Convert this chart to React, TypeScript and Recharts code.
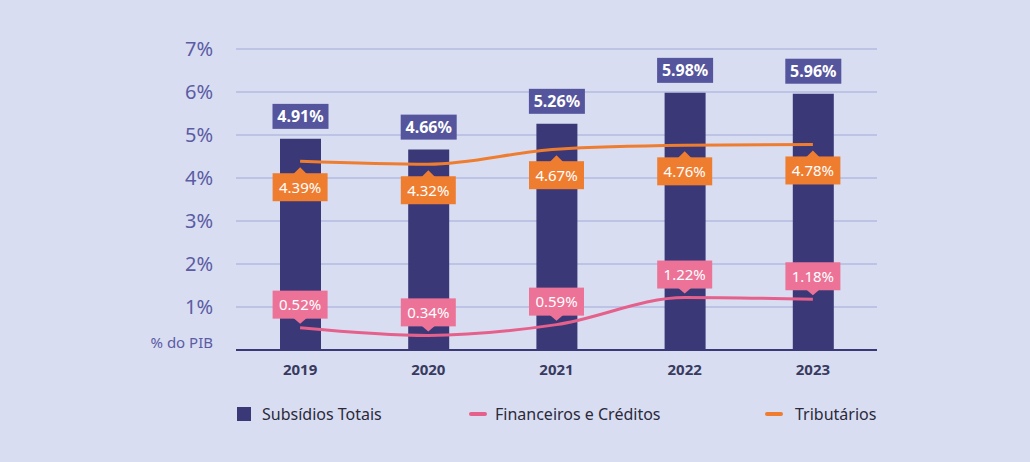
import React from "react";
import {
  ComposedChart,
  Bar,
  Line,
  XAxis,
  YAxis,
  CartesianGrid,
  LabelList,
  Legend,
} from "recharts";

const years = ["2019", "2020", "2021", "2022", "2023"];
const subsidiosTotais = [4.91, 4.66, 5.26, 5.98, 5.96];
const financeiros = [0.52, 0.34, 0.59, 1.22, 1.18];
const tributarios = [4.39, 4.32, 4.67, 4.76, 4.78];
const yTicks = [0, 1, 2, 3, 4, 5, 6, 7];

const data = years.map((y, i) => ({
  year: y,
  total: subsidiosTotais[i],
  fin: financeiros[i],
  trib: tributarios[i],
}));

const FONT = "'Noto Sans', 'Open Sans', sans-serif";
const BG = "#d9ddf2";
const BAR = "#3b3877";
const ORANGE = "#ef7d30";
const PINK = "#e5608a";
const PINK_BOX = "#ec7397";
const BAR_BOX = "#55559d";

const fmt = (v: number) => v.toFixed(2) + "%";

const BarLabel = (props: any) => {
  const { x, y, width, value } = props;
  const cx = x + width / 2;
  const w = 56;
  const h = 25;
  const bottom = y - 10;
  return (
    <g>
      <rect x={cx - w / 2} y={bottom - h} width={w} height={h} fill={BAR_BOX} />
      <text
        x={cx}
        y={bottom - h / 2}
        dy="0.36em"
        textAnchor="middle"
        fill="#ffffff"
        fontSize={16}
        fontWeight={700}
        fontFamily={FONT}
      >
        {fmt(value)}
      </text>
    </g>
  );
};

const OrangeLabel = (props: any) => {
  const { x, y, value } = props;
  const w = 55;
  const h = 28;
  const top = y + 12;
  return (
    <g>
      <polygon points={`${x - 7},${top + 1} ${x},${y + 6} ${x + 7},${top + 1}`} fill={ORANGE} />
      <rect x={x - w / 2} y={top} width={w} height={h} fill={ORANGE} />
      <text
        x={x}
        y={top + h / 2}
        dy="0.36em"
        textAnchor="middle"
        fill="#ffffff"
        fontSize={15}
        fontFamily={FONT}
      >
        {fmt(value)}
      </text>
    </g>
  );
};

const PinkLabel = (props: any) => {
  const { x, y, value } = props;
  const w = 55;
  const h = 28;
  const bottom = y - 9;
  return (
    <g>
      <polygon points={`${x - 7},${bottom - 1} ${x},${y - 4} ${x + 7},${bottom - 1}`} fill={PINK_BOX} />
      <rect x={x - w / 2} y={bottom - h} width={w} height={h} fill={PINK_BOX} />
      <text
        x={x}
        y={bottom - h / 2}
        dy="0.36em"
        textAnchor="middle"
        fill="#ffffff"
        fontSize={15}
        fontFamily={FONT}
      >
        {fmt(value)}
      </text>
    </g>
  );
};

const YTick = (props: any) => {
  const { x, y, payload } = props;
  if (payload.value === 0) {
    return (
      <text x={x} y={y - 7} dy="0.36em" textAnchor="end" fill="#5b5ca3" fontSize={15} fontFamily={FONT}>
        % do PIB
      </text>
    );
  }
  return (
    <text x={x} y={y} dy="0.36em" textAnchor="end" fill="#5b5ca3" fontSize={20} fontFamily={FONT}>
      {payload.value + "%"}
    </text>
  );
};

const LegendContent = () => (
  <div style={{ position: "relative", width: 1030, height: 30, fontFamily: FONT, fontSize: 16, color: "#2a2a3a" }}>
    <div style={{ position: "absolute", left: 237, top: 7, width: 14, height: 14, background: BAR }} />
    <div style={{ position: "absolute", left: 262, top: 3, lineHeight: "22px" }}>Subsídios Totais</div>
    <div style={{ position: "absolute", left: 469, top: 12, width: 18, height: 4, borderRadius: 2, background: PINK }} />
    <div style={{ position: "absolute", left: 495, top: 3, lineHeight: "22px" }}>Financeiros e Créditos</div>
    <div style={{ position: "absolute", left: 765, top: 12, width: 18, height: 4, borderRadius: 2, background: ORANGE }} />
    <div style={{ position: "absolute", left: 795, top: 3, lineHeight: "22px" }}>Tributários</div>
  </div>
);

export default function App() {
  return (
    <div style={{ position: "absolute", left: 0, top: 0, width: 1030, height: 462, background: BG }}>
      <ComposedChart
        width={1030}
        height={462}
        data={data}
        margin={{ top: 49, right: 153, left: 0, bottom: 72 }}
      >
        <CartesianGrid horizontal vertical={false} stroke="#b3bae0" strokeWidth={1.5} />
        <XAxis
          dataKey="year"
          height={40}
          tickLine={false}
          axisLine={{ stroke: BAR, strokeWidth: 2 }}
          tickMargin={8}
          tick={{ fontSize: 15, fontWeight: 700, fill: "#383a5e", fontFamily: FONT }}
        />
        <YAxis
          width={236}
          domain={[0, 7]}
          ticks={yTicks}
          interval={0}
          axisLine={false}
          tickLine={false}
          tickMargin={17}
          tick={<YTick />}
        />
        <Legend
          layout="horizontal"
          verticalAlign="middle"
          align="center"
          wrapperStyle={{ position: "absolute", top: 400, left: 0, width: 1030 }}
          content={<LegendContent />}
        />
        <Bar dataKey="total" name="Subsídios Totais" fill={BAR} barSize={41} isAnimationActive={false}>
          <LabelList dataKey="total" content={<BarLabel />} />
        </Bar>
        <Line
          type="monotone"
          dataKey="trib"
          name="Tributários"
          stroke={ORANGE}
          strokeWidth={3}
          dot={false}
          isAnimationActive={false}
        >
          <LabelList dataKey="trib" content={<OrangeLabel />} />
        </Line>
        <Line
          type="monotone"
          dataKey="fin"
          name="Financeiros e Créditos"
          stroke={PINK}
          strokeWidth={3}
          dot={false}
          isAnimationActive={false}
        >
          <LabelList dataKey="fin" content={<PinkLabel />} />
        </Line>
      </ComposedChart>
    </div>
  );
}
